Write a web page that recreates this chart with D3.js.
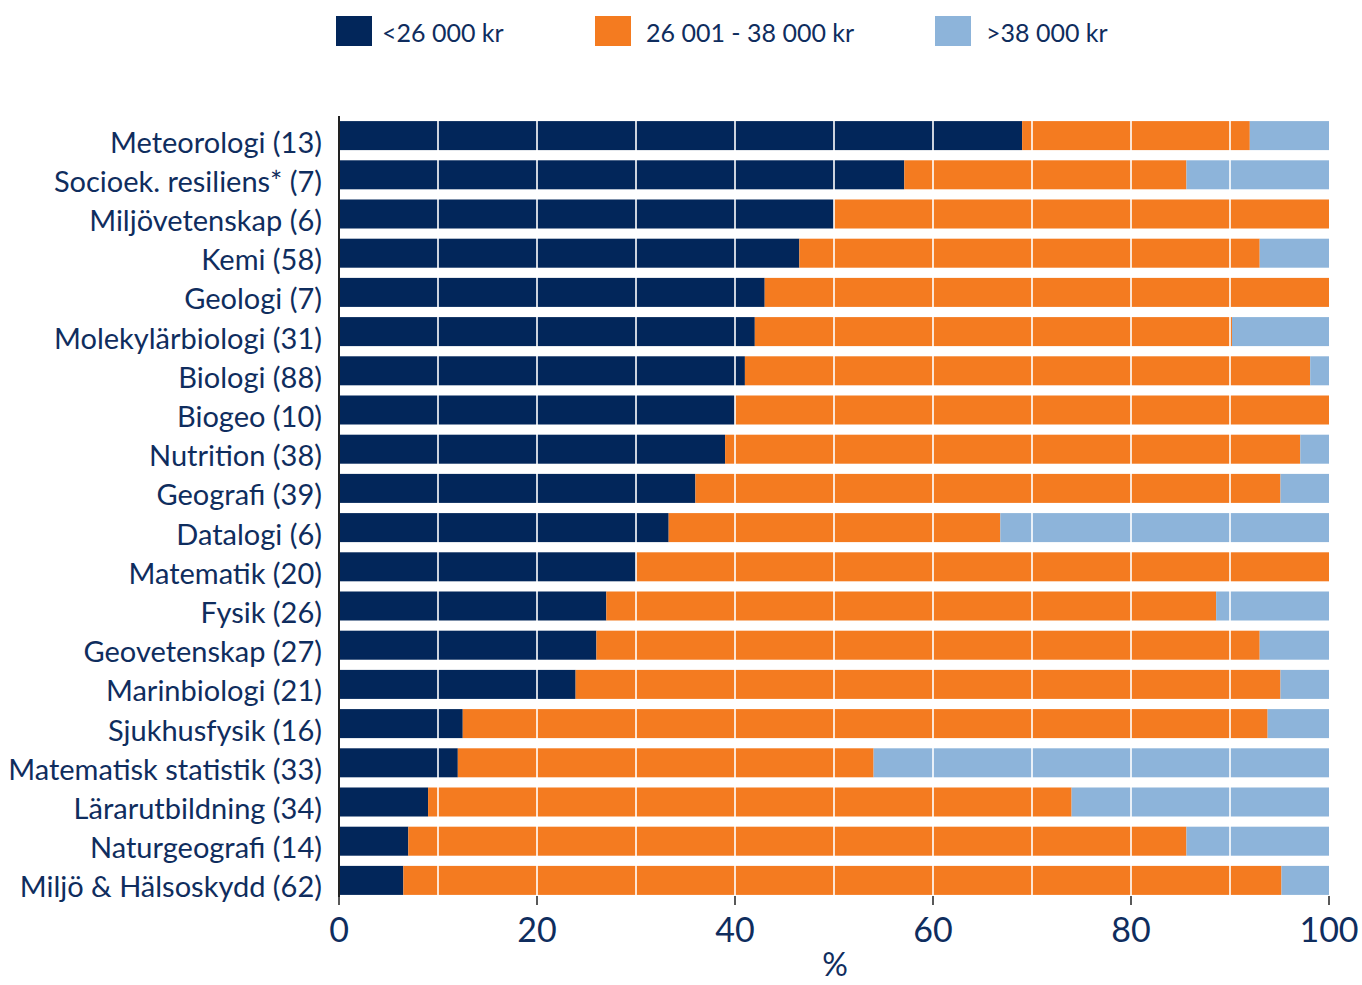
<!DOCTYPE html>
<html lang="sv">
<head>
<meta charset="UTF-8">
<title>Lön per utbildning</title>
<script src="https://d3js.org/d3.v7.min.js"></script>
<style>
  body { margin: 0; background: #fff; }
  svg { display: block; font-family: Lato, "Open Sans", sans-serif; }
</style>
</head>
<body>
<div id="chart"></div>
<script>
// data (share of respondents, %)
const categories = [
  "Meteorologi (13)", "Socioek. resiliens* (7)", "Miljövetenskap (6)", "Kemi (58)",
  "Geologi (7)", "Molekylärbiologi (31)", "Biologi (88)", "Biogeo (10)",
  "Nutrition (38)", "Geografi (39)", "Datalogi (6)", "Matematik (20)",
  "Fysik (26)", "Geovetenskap (27)", "Marinbiologi (21)", "Sjukhusfysik (16)",
  "Matematisk statistik (33)", "Lärarutbildning (34)", "Naturgeografi (14)", "Miljö & Hälsoskydd (62)"
];
const low  = [69.0, 57.1, 50.0, 46.5, 43.0, 42.0, 41.0, 40.0, 39.0, 36.0, 33.3, 30.0, 27.0, 26.0, 23.9, 12.5, 12.0, 9.0, 7.0, 6.5];
const mid  = [23.0, 28.5, 50.0, 46.5, 57.0, 48.2, 57.1, 60.0, 58.1, 59.1, 33.5, 70.0, 61.6, 67.0, 71.2, 81.3, 42.0, 65.0, 78.6, 88.7];
const high = [8.0, 14.4, 0, 7.0, 0, 9.8, 1.9, 0, 2.9, 4.9, 33.2, 0, 11.4, 7.0, 4.9, 6.2, 46.0, 26.0, 14.4, 4.8];
const seriesNames = ["<26 000 kr", "26 001 - 38 000 kr", ">38 000 kr"];
const colors = ["#02265a", "#f47b20", "#8db4da"];
const xTicks = [0, 20, 40, 60, 80, 100];
const gridValues = [10, 20, 30, 40, 50, 60, 70, 80, 90];

const W = 1362, H = 985;
const textColor = "#0f2d5e";

const svg = d3.select("#chart").append("svg")
  .attr("width", W).attr("height", H);

const x = d3.scaleLinear().domain([0, 100]).range([339, 1329]);
const y = d3.scaleBand().domain(categories).range([116, 900])
  .paddingInner(0.26).paddingOuter(0.13);

const table = categories.map((c, i) => ({ cat: c, s0: low[i], s1: mid[i], s2: high[i] }));
const stacked = d3.stack().keys(["s0", "s1", "s2"])(table);

// bars
svg.append("g").selectAll("g").data(stacked).join("g")
  .attr("fill", (d, i) => colors[i])
  .selectAll("rect").data(d => d).join("rect")
  .attr("x", d => x(d[0]))
  .attr("y", d => y(d.data.cat))
  .attr("width", d => Math.max(0, x(d[1]) - x(d[0])))
  .attr("height", y.bandwidth());

// white grid lines over the bars
svg.append("g").selectAll("line").data(gridValues).join("line")
  .attr("x1", d => x(d)).attr("x2", d => x(d))
  .attr("y1", 116).attr("y2", 897)
  .attr("stroke", "#fff").attr("stroke-width", 1.6);

// left axis line
svg.append("line")
  .attr("x1", 339).attr("x2", 339).attr("y1", 116).attr("y2", 897)
  .attr("stroke", "#222").attr("stroke-width", 2);

// bottom ticks + labels
const tickG = svg.append("g").selectAll("g").data(xTicks).join("g")
  .attr("transform", d => `translate(${x(d)},0)`);
tickG.append("line").attr("y1", 896).attr("y2", 905)
  .attr("stroke", "#222").attr("stroke-width", 1.5);
tickG.append("text").attr("y", 942).attr("text-anchor", "middle")
  .attr("font-size", 34).attr("fill", textColor).text(d => d);

svg.append("text").attr("x", 835).attr("y", 976).attr("text-anchor", "middle")
  .attr("font-size", 32).attr("fill", textColor).text("%");

// category labels
svg.append("g").selectAll("text").data(categories).join("text")
  .attr("x", 322)
  .attr("y", d => y(d) + y.bandwidth() / 2 + 17)
  .attr("text-anchor", "end")
  .attr("font-size", 29).attr("fill", textColor)
  .text(d => d);

// legend
const legendX = [336, 595, 935];
const lg = svg.append("g").selectAll("g").data(seriesNames).join("g")
  .attr("transform", (d, i) => `translate(${legendX[i]},16)`);
lg.append("rect").attr("width", 36).attr("height", 30).attr("fill", (d, i) => colors[i]);
lg.append("text").attr("x", (d, i) => i === 0 ? 46 : 51).attr("y", 26)
  .attr("font-size", 25).attr("fill", textColor).text(d => d);
</script>
</body>
</html>
